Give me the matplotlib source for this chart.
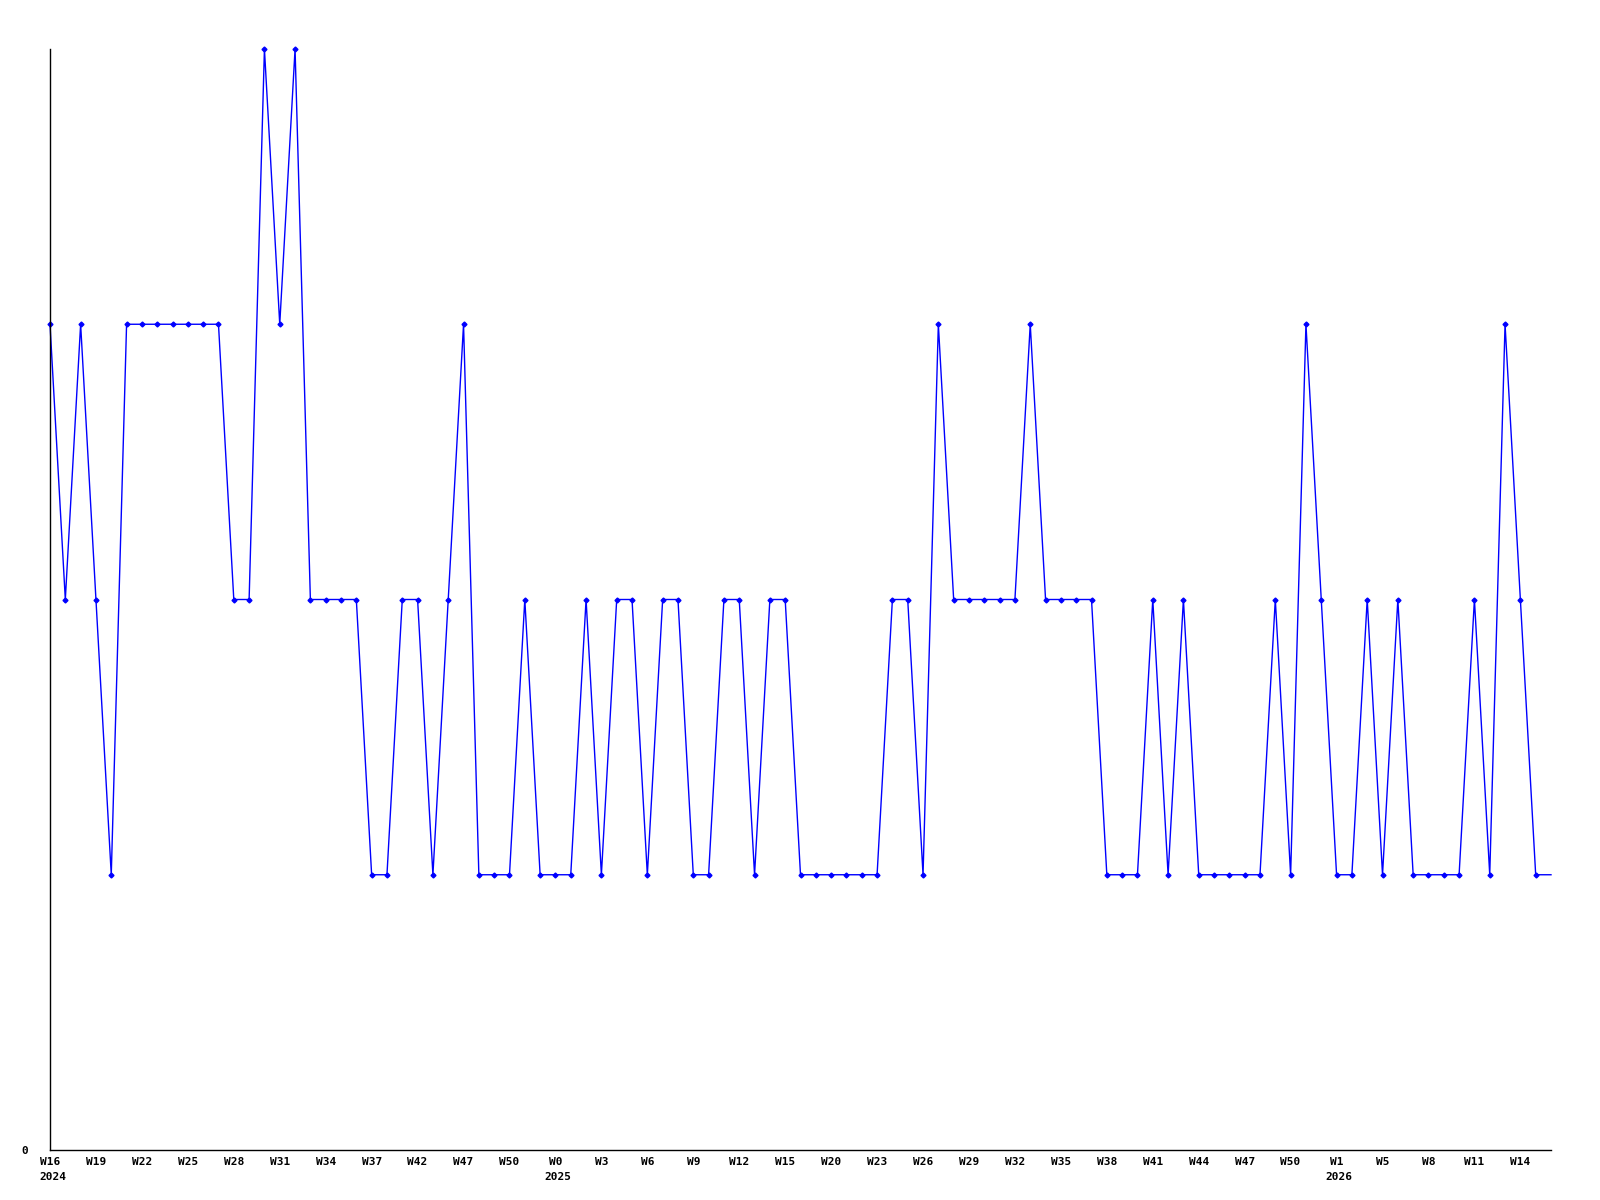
import matplotlib
matplotlib.use("Agg")
import matplotlib.pyplot as plt
import numpy as np

# weekly values, W16 2024 onwards (last one only closes the line, no marker)
values = [3, 2, 3, 2, 1, 3, 3, 3, 3, 3, 3, 3, 2, 2, 4, 3, 4, 2, 2, 2,
          2, 1, 1, 2, 2, 1, 2, 3, 1, 1, 1, 2, 1, 1, 1, 2, 1, 2, 2, 1,
          2, 2, 1, 1, 2, 2, 1, 2, 2, 1, 1, 1, 1, 1, 1, 2, 2, 1, 3, 2,
          2, 2, 2, 2, 3, 2, 2, 2, 2, 1, 1, 1, 2, 1, 2, 1, 1, 1, 1, 1,
          2, 1, 3, 2, 1, 1, 2, 1, 2, 1, 1, 1, 1, 2, 1, 3, 2, 1, 1]

week_labels = ["W16", "W19", "W22", "W25", "W28", "W31", "W34", "W37", "W42",
               "W47", "W50", "W0", "W3", "W6", "W9", "W12", "W15", "W20",
               "W23", "W26", "W29", "W32", "W35", "W38", "W41", "W44", "W47",
               "W50", "W1", "W5", "W8", "W11", "W14"]
label_step = 3

years = ["2024", "2025", "2026"]
year_pos = [0, 33, 84]

font = {"family": "DejaVu Sans Mono", "weight": "bold", "size": 8}

fig = plt.figure(figsize=(16, 12), dpi=100)
ax = fig.add_axes([50 / 1600, 1 - 1150 / 1200, 1501 / 1600, 1101 / 1200])

x = np.arange(len(values))
ax.plot(x, values, color="#0000ff", lw=1.0, marker="D", ms=2.5,
        markevery=list(range(len(values) - 1)), clip_on=False)

ax.set_xlim(0, len(values) - 1)
ax.set_ylim(0, 4)

for s in ["top", "right"]:
    ax.spines[s].set_visible(False)
ax.spines["left"].set_linewidth(1)
ax.spines["bottom"].set_linewidth(1)

ax.set_yticks([0])
ax.set_yticklabels(["0"], fontdict=font)
ax.tick_params(axis="y", length=0, pad=16)

ax.set_xticks(np.arange(len(week_labels)) * label_step)
ax.set_xticklabels(week_labels, fontdict=font)
ax.tick_params(axis="x", length=0, pad=5)

for yr, p in zip(years, year_pos):
    ax.annotate(yr, xy=(p, 0), xycoords="data", xytext=(-11, -27),
                textcoords="offset pixels", ha="left", va="center", **font)

fig.savefig("out.png", dpi=100)
